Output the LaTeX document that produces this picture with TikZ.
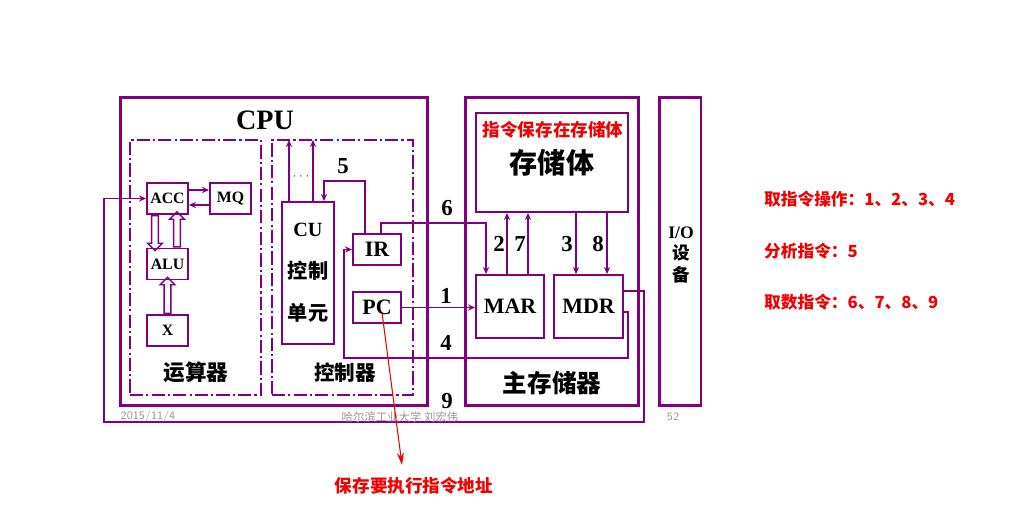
\documentclass[tikz,border=0pt]{standalone}
\usepackage{fontspec}
\setmainfont{Liberation Serif}
\newfontfamily\cjk{Noto Sans CJK SC}
\usetikzlibrary{shapes.arrows,arrows.meta}
\definecolor{cpupurple}{RGB}{128,0,128}
\definecolor{notered}{RGB}{240,0,0}
\definecolor{footgray}{RGB}{150,150,150}

\begin{document}
\begin{tikzpicture}[x=0.02cm, y=-0.02cm,
    frame/.style={draw=cpupurple, line width=1.7pt, inner sep=0pt},
    unit/.style={draw=cpupurple, line width=1.1pt, inner sep=0pt,
      dash pattern=on 7.5pt off 1.8pt on 1.2pt off 1.8pt},
    box/.style={draw=cpupurple, line width=1.1pt, inner sep=0pt},
    smallreg/.style={box, minimum width=0.82cm, minimum height=0.62cm,
      font=\fontsize{9}{9}\selectfont\bfseries},
    reg/.style={box, font=\fontsize{12.5}{12.5}\selectfont\bfseries},
    bus/.style={cpupurple, line width=0.9pt, -{Stealth[length=4pt,width=3.5pt]}},
    hollow/.style={single arrow, draw=cpupurple, line width=0.8pt, inner sep=1.5pt,
      single arrow head extend=2.3pt, anchor=tail},
    num/.style={font=\fontsize{13}{13}\selectfont\bfseries},
    hanzi/.style={font=\cjk\bfseries\fontsize{#1}{#1}\selectfont},
    note/.style={notered, font=\cjk\bfseries\fontsize{#1}{#1}\selectfont},
    foot/.style={footgray, inner sep=0pt, font=\cjk\fontsize{6.5}{6.5}\selectfont}]
    \useasboundingbox (0,0) rectangle (1011,526);

    % CPU
    \node[frame, minimum width=6.16cm, minimum height=6.18cm] (cpu) at (274,251.5) {};
    \node[font=\fontsize{16}{16}\selectfont\bfseries] (cpulbl) at (265,120) {CPU};
    \node[unit, minimum width=2.62cm, minimum height=5.1cm] (arith) at (195.5,267.5) {};
    \node[unit, minimum width=2.82cm, minimum height=5.1cm] (ctrl) at (342.5,267.5) {};

    % arithmetic unit
    \node[smallreg] (acc) at (167.5,198.5) {ACC};
    \node[smallreg] (mq) at (230.5,198.5) {MQ};
    \node[smallreg] (alu) at (167.5,264) {ALU};
    \node[smallreg] (xreg) at (167.5,330.5) {X};
    \draw[bus] ([yshift=0.17cm]acc.east) -- ([yshift=0.17cm]mq.west);
    \draw[bus] ([yshift=-0.13cm]mq.west) -- ([yshift=-0.13cm]acc.east);
    \node[hollow, rotate=-90, minimum height=0.7cm] (accalu) at ([xshift=-0.25cm]acc.south) {};
    \node[hollow, rotate=90, minimum height=0.7cm] (aluacc) at ([xshift=0.19cm]alu.north) {};
    \node[hollow, rotate=90, minimum height=0.72cm] (xalu) at (xreg.north) {};
    \node[hanzi=12.3] (arithlbl) at (196,372) {运算器};

    % controller
    \node[box, minimum width=1.04cm, minimum height=2.84cm, align=center,
      font=\fontsize{11.5}{24}\selectfont\bfseries] (cu) at (308,273)
      {CU\\{\cjk 控制}\\{\cjk 单元}};
    \node[reg, minimum width=0.96cm, minimum height=0.62cm] (ir) at (377,249.5) {IR};
    \node[reg, minimum width=0.96cm, minimum height=0.62cm] (pc) at (377,307.5) {PC};
    \coordinate (cuo1) at (289,140);
    \coordinate (cuo2) at (313,140);
    \draw[bus] (cu.north -| cuo1) -- (cuo1);
    \draw[bus] (cu.north -| cuo2) -- (cuo2);
    \node[cpupurple, font=\scriptsize] (cudots) at (301,177) {$\cdots$};
    \node[hanzi=11.7] (ctrllbl) at (345,373) {控制器};

    % main memory
    \node[frame, minimum width=3.48cm, minimum height=6.18cm] (mem) at (552,251.5) {};
    \node[box, minimum width=3.04cm, minimum height=1.98cm, hanzi=16] (bank) at (552,162.5) {存储体};
    \node[note=10] (banknote) at (553,130) {指令保存在存储体};
    \node[reg, minimum width=1.36cm, minimum height=1.26cm] (mar) at (510,306.5) {MAR};
    \node[reg, minimum width=1.38cm, minimum height=1.26cm] (mdr) at (588.5,306.5) {MDR};
    \node[hanzi=14] (memlbl) at (552,383) {主存储器};

    % I/O
    \node[frame, minimum width=0.84cm, minimum height=6.18cm] (io) at (680,251.5) {};
    \node[align=center, font=\fontsize{10}{12}\selectfont\bfseries] (iolbl) at (681,255)
      {I/O\\{\cjk 设}\\{\cjk 备}};

    % memory buses
    \coordinate (m2) at (507,250);
    \coordinate (m7) at (528,250);
    \coordinate (m3) at (576,250);
    \coordinate (m8) at (607,250);
    \draw[bus] (m2 |- mar.north) -- (m2 |- bank.south);
    \draw[bus] (m7 |- mar.north) -- (m7 |- bank.south);
    \draw[bus] (m3 |- bank.south) -- (m3 |- mdr.north);
    \draw[bus] (m8 |- bank.south) -- (m8 |- mdr.north);

    % instruction flow
    \coordinate (b5) at (324,181);
    \coordinate (b6) at (486,223);
    \coordinate (b4r) at (628,358);
    \coordinate (b4l) at (344,358);
    \coordinate (b9r) at (644,422);
    \coordinate (b9l) at (104,422);
    \draw[bus] (pc.east) -- (pc.east -| mar.west);
    \draw[bus] ([xshift=-0.24cm]ir.north) |- (b5) -- (b5 |- cu.north);
    \draw[bus] ([xshift=0.08cm]ir.north) |- (b6) -- (b6 |- mar.north);
    \draw[bus] ([yshift=-0.11cm]mdr.east) -| (b4r) -- (b4l) |- (ir.west);
    \draw[bus] ([yshift=0.31cm]mdr.east) -| (b9r) -- (b9l) |- (acc.west);

    % step numbers
    \node[num] (n1) at (446,296) {1};
    \node[num] (n2) at (499,244) {2};
    \node[num] (n3) at (567,244) {3};
    \node[num] (n4) at (446,343) {4};
    \node[num] (n5) at (343,166) {5};
    \node[num] (n6) at (447,208) {6};
    \node[num] (n7) at (520,244) {7};
    \node[num] (n8) at (598,244) {8};
    \node[num, inner sep=0pt] (n9) at (447,401) {9};

    % footer
    \node[foot, font=\sffamily\fontsize{6.5}{6.5}\selectfont] (date) at (148,417) {2015/11/4};
    \node[foot] (school) at (400,417) {哈尔滨工业大学 刘宏伟};
    \node[foot, font=\sffamily\fontsize{6.5}{6.5}\selectfont] (page) at (673,417) {52};

    % notes
    \node[note=9.5, anchor=west] (fetch) at (758,199) {取指令操作：1、2、3、4};
    \node[note=9.5, anchor=west] (decode) at (758,251) {分析指令：5};
    \node[note=9.5, anchor=west] (load) at (758,302) {取数指令：6、7、8、9};
    \node[note=10] (pcnote) at (414,486) {保存要执行指令地址};
    \coordinate (pctip) at (402,465);
    \draw[notered, line width=0.6pt, -{Stealth[length=7pt,width=4pt]}]
      ([xshift=0.1cm,yshift=-0.1cm]pc.center) -- (pctip);
\end{tikzpicture}
\end{document}
